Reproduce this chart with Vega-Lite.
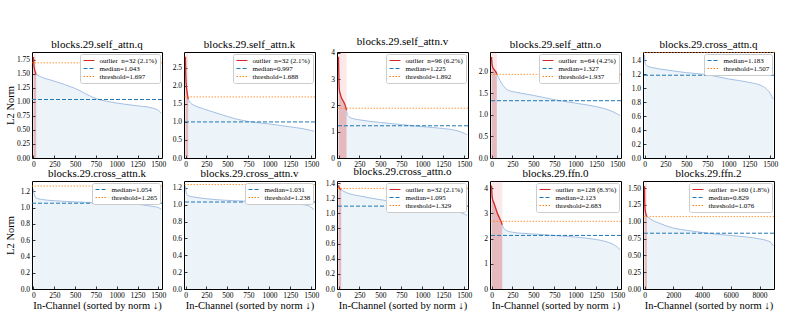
{
  "$schema": "https://vega.github.io/schema/vega-lite/v6.json",
  "padding": {"left": 4, "top": 35, "right": 2, "bottom": 2},
  "columns": 5,
  "spacing": {"row": -3, "column": 0},
  "align": "each",
  "resolve": {"scale": {"color": "independent"}},
  "datasets": {
    "stats": [
      {"p": "q", "median": 1.043, "threshold": 1.697, "first": 0, "n": 32},
      {"p": "k", "median": 0.997, "threshold": 1.688, "first": 0, "n": 32},
      {"p": "v", "median": 1.225, "threshold": 1.892, "first": 0, "n": 96},
      {"p": "o", "median": 1.327, "threshold": 1.937, "first": 0, "n": 64},
      {"p": "cq", "median": 1.183, "threshold": 1.507, "first": 0, "n": 0},
      {"p": "ck", "median": 1.054, "threshold": 1.265, "first": 0, "n": 0},
      {"p": "cv", "median": 1.031, "threshold": 1.238, "first": 0, "n": 0},
      {"p": "co", "median": 1.095, "threshold": 1.329, "first": 0, "n": 32},
      {"p": "f0", "median": 2.123, "threshold": 2.683, "first": 0, "n": 128},
      {"p": "f2", "median": 0.829, "threshold": 1.076, "first": 0, "n": 160}
    ],
    "curve": [
      {"p": "q", "part": "out", "x": 0, "y": 1.80},
      {"p": "q", "part": "out", "x": 2, "y": 1.74},
      {"p": "q", "part": "out", "x": 5, "y": 1.66},
      {"p": "q", "part": "out", "x": 10, "y": 1.60},
      {"p": "q", "part": "out", "x": 18, "y": 1.55},
      {"p": "q", "part": "out", "x": 25, "y": 1.52},
      {"p": "q", "part": "out", "x": 32, "y": 1.49},
      {"p": "q", "part": "in", "x": 32, "y": 1.49},
      {"p": "q", "part": "in", "x": 100, "y": 1.44},
      {"p": "q", "part": "in", "x": 250, "y": 1.37},
      {"p": "q", "part": "in", "x": 500, "y": 1.24},
      {"p": "q", "part": "in", "x": 750, "y": 1.06},
      {"p": "q", "part": "in", "x": 1000, "y": 0.98},
      {"p": "q", "part": "in", "x": 1250, "y": 0.93},
      {"p": "q", "part": "in", "x": 1400, "y": 0.90},
      {"p": "q", "part": "in", "x": 1500, "y": 0.85},
      {"p": "q", "part": "in", "x": 1535, "y": 0.80},

      {"p": "k", "part": "out", "x": 0, "y": 2.80},
      {"p": "k", "part": "out", "x": 2, "y": 2.45},
      {"p": "k", "part": "out", "x": 5, "y": 2.20},
      {"p": "k", "part": "out", "x": 10, "y": 2.00},
      {"p": "k", "part": "out", "x": 20, "y": 1.80},
      {"p": "k", "part": "out", "x": 32, "y": 1.63},
      {"p": "k", "part": "in", "x": 32, "y": 1.63},
      {"p": "k", "part": "in", "x": 50, "y": 1.55},
      {"p": "k", "part": "in", "x": 100, "y": 1.46},
      {"p": "k", "part": "in", "x": 200, "y": 1.37},
      {"p": "k", "part": "in", "x": 400, "y": 1.22},
      {"p": "k", "part": "in", "x": 600, "y": 1.08},
      {"p": "k", "part": "in", "x": 750, "y": 1.01},
      {"p": "k", "part": "in", "x": 1000, "y": 0.94},
      {"p": "k", "part": "in", "x": 1250, "y": 0.86},
      {"p": "k", "part": "in", "x": 1400, "y": 0.81},
      {"p": "k", "part": "in", "x": 1500, "y": 0.76},
      {"p": "k", "part": "in", "x": 1535, "y": 0.74},

      {"p": "v", "part": "out", "x": 0, "y": 3.85},
      {"p": "v", "part": "out", "x": 2, "y": 3.45},
      {"p": "v", "part": "out", "x": 5, "y": 3.00},
      {"p": "v", "part": "out", "x": 10, "y": 2.60},
      {"p": "v", "part": "out", "x": 20, "y": 2.45},
      {"p": "v", "part": "out", "x": 40, "y": 2.25},
      {"p": "v", "part": "out", "x": 60, "y": 2.15},
      {"p": "v", "part": "out", "x": 80, "y": 2.00},
      {"p": "v", "part": "out", "x": 96, "y": 1.82},
      {"p": "v", "part": "in", "x": 96, "y": 1.82},
      {"p": "v", "part": "in", "x": 105, "y": 1.65},
      {"p": "v", "part": "in", "x": 120, "y": 1.58},
      {"p": "v", "part": "in", "x": 150, "y": 1.52},
      {"p": "v", "part": "in", "x": 250, "y": 1.45},
      {"p": "v", "part": "in", "x": 500, "y": 1.35},
      {"p": "v", "part": "in", "x": 750, "y": 1.27},
      {"p": "v", "part": "in", "x": 1000, "y": 1.19},
      {"p": "v", "part": "in", "x": 1250, "y": 1.12},
      {"p": "v", "part": "in", "x": 1400, "y": 1.05},
      {"p": "v", "part": "in", "x": 1500, "y": 0.94},
      {"p": "v", "part": "in", "x": 1535, "y": 0.88},

      {"p": "o", "part": "out", "x": 0, "y": 2.34},
      {"p": "o", "part": "out", "x": 3, "y": 2.25},
      {"p": "o", "part": "out", "x": 8, "y": 2.15},
      {"p": "o", "part": "out", "x": 15, "y": 2.10},
      {"p": "o", "part": "out", "x": 30, "y": 2.05},
      {"p": "o", "part": "out", "x": 50, "y": 2.00},
      {"p": "o", "part": "out", "x": 64, "y": 1.94},
      {"p": "o", "part": "in", "x": 64, "y": 1.94},
      {"p": "o", "part": "in", "x": 100, "y": 1.80},
      {"p": "o", "part": "in", "x": 150, "y": 1.65},
      {"p": "o", "part": "in", "x": 200, "y": 1.57},
      {"p": "o", "part": "in", "x": 300, "y": 1.52},
      {"p": "o", "part": "in", "x": 500, "y": 1.45},
      {"p": "o", "part": "in", "x": 750, "y": 1.35},
      {"p": "o", "part": "in", "x": 1000, "y": 1.27},
      {"p": "o", "part": "in", "x": 1250, "y": 1.19},
      {"p": "o", "part": "in", "x": 1400, "y": 1.11},
      {"p": "o", "part": "in", "x": 1500, "y": 1.02},
      {"p": "o", "part": "in", "x": 1535, "y": 0.98},

      {"p": "cq", "part": "in", "x": 0, "y": 1.47},
      {"p": "cq", "part": "in", "x": 4, "y": 1.40},
      {"p": "cq", "part": "in", "x": 12, "y": 1.34},
      {"p": "cq", "part": "in", "x": 40, "y": 1.31},
      {"p": "cq", "part": "in", "x": 100, "y": 1.29},
      {"p": "cq", "part": "in", "x": 250, "y": 1.26},
      {"p": "cq", "part": "in", "x": 500, "y": 1.22},
      {"p": "cq", "part": "in", "x": 750, "y": 1.19},
      {"p": "cq", "part": "in", "x": 1000, "y": 1.13},
      {"p": "cq", "part": "in", "x": 1250, "y": 1.08},
      {"p": "cq", "part": "in", "x": 1400, "y": 1.03},
      {"p": "cq", "part": "in", "x": 1460, "y": 0.98},
      {"p": "cq", "part": "in", "x": 1500, "y": 0.92},
      {"p": "cq", "part": "in", "x": 1535, "y": 0.84},

      {"p": "ck", "part": "in", "x": 0, "y": 1.23},
      {"p": "ck", "part": "in", "x": 10, "y": 1.16},
      {"p": "ck", "part": "in", "x": 30, "y": 1.12},
      {"p": "ck", "part": "in", "x": 100, "y": 1.10},
      {"p": "ck", "part": "in", "x": 250, "y": 1.085},
      {"p": "ck", "part": "in", "x": 500, "y": 1.07},
      {"p": "ck", "part": "in", "x": 750, "y": 1.06},
      {"p": "ck", "part": "in", "x": 1000, "y": 1.05},
      {"p": "ck", "part": "in", "x": 1250, "y": 1.04},
      {"p": "ck", "part": "in", "x": 1400, "y": 1.02},
      {"p": "ck", "part": "in", "x": 1500, "y": 1.00},
      {"p": "ck", "part": "in", "x": 1535, "y": 0.98},

      {"p": "cv", "part": "in", "x": 0, "y": 1.22},
      {"p": "cv", "part": "in", "x": 5, "y": 1.17},
      {"p": "cv", "part": "in", "x": 15, "y": 1.12},
      {"p": "cv", "part": "in", "x": 50, "y": 1.10},
      {"p": "cv", "part": "in", "x": 100, "y": 1.09},
      {"p": "cv", "part": "in", "x": 250, "y": 1.07},
      {"p": "cv", "part": "in", "x": 500, "y": 1.05},
      {"p": "cv", "part": "in", "x": 750, "y": 1.04},
      {"p": "cv", "part": "in", "x": 1000, "y": 1.025},
      {"p": "cv", "part": "in", "x": 1250, "y": 1.01},
      {"p": "cv", "part": "in", "x": 1400, "y": 1.00},
      {"p": "cv", "part": "in", "x": 1480, "y": 0.98},
      {"p": "cv", "part": "in", "x": 1535, "y": 0.94},

      {"p": "co", "part": "out", "x": 0, "y": 1.37},
      {"p": "co", "part": "out", "x": 5, "y": 1.35},
      {"p": "co", "part": "out", "x": 15, "y": 1.33},
      {"p": "co", "part": "out", "x": 32, "y": 1.31},
      {"p": "co", "part": "in", "x": 32, "y": 1.31},
      {"p": "co", "part": "in", "x": 100, "y": 1.27},
      {"p": "co", "part": "in", "x": 250, "y": 1.23},
      {"p": "co", "part": "in", "x": 500, "y": 1.18},
      {"p": "co", "part": "in", "x": 750, "y": 1.14},
      {"p": "co", "part": "in", "x": 1000, "y": 1.10},
      {"p": "co", "part": "in", "x": 1250, "y": 1.06},
      {"p": "co", "part": "in", "x": 1400, "y": 1.03},
      {"p": "co", "part": "in", "x": 1500, "y": 0.99},
      {"p": "co", "part": "in", "x": 1535, "y": 0.97},

      {"p": "f0", "part": "out", "x": 0, "y": 4.10},
      {"p": "f0", "part": "out", "x": 5, "y": 3.80},
      {"p": "f0", "part": "out", "x": 10, "y": 3.60},
      {"p": "f0", "part": "out", "x": 30, "y": 3.40},
      {"p": "f0", "part": "out", "x": 50, "y": 3.20},
      {"p": "f0", "part": "out", "x": 70, "y": 3.00},
      {"p": "f0", "part": "out", "x": 90, "y": 2.85},
      {"p": "f0", "part": "out", "x": 110, "y": 2.70},
      {"p": "f0", "part": "out", "x": 128, "y": 2.55},
      {"p": "f0", "part": "in", "x": 128, "y": 2.55},
      {"p": "f0", "part": "in", "x": 160, "y": 2.35},
      {"p": "f0", "part": "in", "x": 250, "y": 2.25},
      {"p": "f0", "part": "in", "x": 500, "y": 2.18},
      {"p": "f0", "part": "in", "x": 750, "y": 2.12},
      {"p": "f0", "part": "in", "x": 1000, "y": 2.06},
      {"p": "f0", "part": "in", "x": 1250, "y": 1.96},
      {"p": "f0", "part": "in", "x": 1350, "y": 1.89},
      {"p": "f0", "part": "in", "x": 1450, "y": 1.77},
      {"p": "f0", "part": "in", "x": 1500, "y": 1.66},
      {"p": "f0", "part": "in", "x": 1535, "y": 1.55},

      {"p": "f2", "part": "out", "x": 0, "y": 1.53},
      {"p": "f2", "part": "out", "x": 5, "y": 1.40},
      {"p": "f2", "part": "out", "x": 15, "y": 1.28},
      {"p": "f2", "part": "out", "x": 40, "y": 1.18},
      {"p": "f2", "part": "out", "x": 100, "y": 1.11},
      {"p": "f2", "part": "out", "x": 160, "y": 1.08},
      {"p": "f2", "part": "in", "x": 160, "y": 1.08},
      {"p": "f2", "part": "in", "x": 400, "y": 1.04},
      {"p": "f2", "part": "in", "x": 1000, "y": 0.98},
      {"p": "f2", "part": "in", "x": 2000, "y": 0.905},
      {"p": "f2", "part": "in", "x": 3000, "y": 0.87},
      {"p": "f2", "part": "in", "x": 4000, "y": 0.84},
      {"p": "f2", "part": "in", "x": 5000, "y": 0.815},
      {"p": "f2", "part": "in", "x": 6000, "y": 0.795},
      {"p": "f2", "part": "in", "x": 7000, "y": 0.775},
      {"p": "f2", "part": "in", "x": 8000, "y": 0.745},
      {"p": "f2", "part": "in", "x": 8500, "y": 0.72},
      {"p": "f2", "part": "in", "x": 8800, "y": 0.69},
      {"p": "f2", "part": "in", "x": 8959, "y": 0.64}
    ]
  },
  "concat": [
    {
      "title": "blocks.29.self_attn.q", "width": 130, "height": 106,
      "layer": [
        {"data": {"name": "stats"}, "transform": [{"filter": "datum.p == 'q'"}], "mark": {"type": "rect", "color": "#d62728", "opacity": 0.1},
         "encoding": {"x": {"field": "first", "type": "quantitative", "scale": {"domain": [-18, 1544], "nice": false, "zero": false}, "axis": {"values": [0, 250, 500, 750, 1000, 1250, 1500], "format": "d", "title": null, "labelOverlap": false, "tickCount": 20}}, "x2": {"field": "n"}}},
        {"data": {"name": "curve"}, "transform": [{"filter": "datum.p == 'q'"}], "mark": {"type": "area", "color": "#1f77b4", "opacity": 0.08, "interpolate": "monotone"},
         "encoding": {"x": {"field": "x", "type": "quantitative", "scale": {"domain": [-18, 1544], "nice": false, "zero": false}, "axis": {"values": [0, 250, 500, 750, 1000, 1250, 1500], "format": "d", "title": null, "labelOverlap": false, "tickCount": 20}}, "y": {"field": "y", "type": "quantitative", "stack": null, "scale": {"domain": [0, 1.89], "nice": false}, "axis": {"values": [0, 0.25, 0.5, 0.75, 1, 1.25, 1.5, 1.75], "format": ".2f", "title": "L2 Norm", "labelOverlap": false, "tickCount": 20}}, "detail": {"field": "part", "type": "nominal"}}},
        {"data": {"name": "curve"}, "transform": [{"filter": "datum.p == 'q' && datum.part == 'out'"}], "mark": {"type": "area", "color": "#d62728", "opacity": 0.2, "interpolate": "monotone"},
         "encoding": {"x": {"field": "x", "type": "quantitative"}, "y": {"field": "y", "type": "quantitative"}}},
        {"data": {"name": "curve"}, "transform": [{"filter": "datum.p == 'q' && datum.part == 'in'"}], "mark": {"type": "line", "color": "#a3bfe6", "strokeWidth": 1, "interpolate": "monotone"},
         "encoding": {"x": {"field": "x", "type": "quantitative"}, "y": {"field": "y", "type": "quantitative"}}},
        {"data": {"name": "curve"}, "transform": [{"filter": "datum.p == 'q' && datum.part == 'out'"}], "mark": {"type": "line", "strokeWidth": 1.3, "interpolate": "monotone"},
         "encoding": {"x": {"field": "x", "type": "quantitative"}, "y": {"field": "y", "type": "quantitative"}, "color": {"datum": "outlier\u00a0 n=32 (2.1%)", "type": "nominal"}}},
        {"data": {"name": "stats"}, "transform": [{"filter": "datum.p == 'q'"}], "mark": {"type": "rule", "strokeWidth": 1, "strokeDash": [4, 2]},
         "encoding": {"y": {"field": "median", "type": "quantitative"},
           "color": {"datum": "median=1.043", "type": "nominal", "scale": {"domain": ["outlier\u00a0 n=32 (2.1%)", "median=1.043", "threshold=1.697"], "range": ["#d62728", "#1f77b4", "#ff7f0e"]},
             "legend": {"title": null, "encode": {"symbols": {"update": {"strokeDash": {"signal": "indexof(datum.label, 'median') == 0 ? [4, 2] : indexof(datum.label, 'threshold') == 0 ? [1.5, 1.5] : [1, 0]"}, "stroke": {"signal": "indexof(datum.label, 'median') == 0 ? '#1f77b4' : indexof(datum.label, 'threshold') == 0 ? '#ff7f0e' : '#d62728'"}}}}}}}},
        {"data": {"name": "stats"}, "transform": [{"filter": "datum.p == 'q'"}], "mark": {"type": "rule", "strokeWidth": 1, "opacity": 0.8, "strokeDash": [1.5, 1.5]},
         "encoding": {"y": {"field": "threshold", "type": "quantitative"}, "color": {"datum": "threshold=1.697", "type": "nominal"}}}
      ]
    },
    {
      "title": "blocks.29.self_attn.k", "width": 131, "height": 106,
      "layer": [
        {"data": {"name": "stats"}, "transform": [{"filter": "datum.p == 'k'"}], "mark": {"type": "rect", "color": "#d62728", "opacity": 0.1},
         "encoding": {"x": {"field": "first", "type": "quantitative", "scale": {"domain": [-18, 1544], "nice": false, "zero": false}, "axis": {"values": [0, 250, 500, 750, 1000, 1250, 1500], "format": "d", "title": null, "labelOverlap": false, "tickCount": 20}}, "x2": {"field": "n"}}},
        {"data": {"name": "curve"}, "transform": [{"filter": "datum.p == 'k'"}], "mark": {"type": "area", "color": "#1f77b4", "opacity": 0.08, "interpolate": "monotone"},
         "encoding": {"x": {"field": "x", "type": "quantitative", "scale": {"domain": [-18, 1544], "nice": false, "zero": false}, "axis": {"values": [0, 250, 500, 750, 1000, 1250, 1500], "format": "d", "title": null, "labelOverlap": false, "tickCount": 20}}, "y": {"field": "y", "type": "quantitative", "stack": null, "scale": {"domain": [0, 2.93], "nice": false}, "axis": {"values": [0, 0.5, 1, 1.5, 2, 2.5], "format": ".1f", "title": null, "labelOverlap": false, "tickCount": 20}}, "detail": {"field": "part", "type": "nominal"}}},
        {"data": {"name": "curve"}, "transform": [{"filter": "datum.p == 'k' && datum.part == 'out'"}], "mark": {"type": "area", "color": "#d62728", "opacity": 0.2, "interpolate": "monotone"},
         "encoding": {"x": {"field": "x", "type": "quantitative"}, "y": {"field": "y", "type": "quantitative"}}},
        {"data": {"name": "curve"}, "transform": [{"filter": "datum.p == 'k' && datum.part == 'in'"}], "mark": {"type": "line", "color": "#a3bfe6", "strokeWidth": 1, "interpolate": "monotone"},
         "encoding": {"x": {"field": "x", "type": "quantitative"}, "y": {"field": "y", "type": "quantitative"}}},
        {"data": {"name": "curve"}, "transform": [{"filter": "datum.p == 'k' && datum.part == 'out'"}], "mark": {"type": "line", "strokeWidth": 1.3, "interpolate": "monotone"},
         "encoding": {"x": {"field": "x", "type": "quantitative"}, "y": {"field": "y", "type": "quantitative"}, "color": {"datum": "outlier\u00a0 n=32 (2.1%)", "type": "nominal"}}},
        {"data": {"name": "stats"}, "transform": [{"filter": "datum.p == 'k'"}], "mark": {"type": "rule", "strokeWidth": 1, "strokeDash": [4, 2]},
         "encoding": {"y": {"field": "median", "type": "quantitative"},
           "color": {"datum": "median=0.997", "type": "nominal", "scale": {"domain": ["outlier\u00a0 n=32 (2.1%)", "median=0.997", "threshold=1.688"], "range": ["#d62728", "#1f77b4", "#ff7f0e"]},
             "legend": {"title": null, "encode": {"symbols": {"update": {"strokeDash": {"signal": "indexof(datum.label, 'median') == 0 ? [4, 2] : indexof(datum.label, 'threshold') == 0 ? [1.5, 1.5] : [1, 0]"}, "stroke": {"signal": "indexof(datum.label, 'median') == 0 ? '#1f77b4' : indexof(datum.label, 'threshold') == 0 ? '#ff7f0e' : '#d62728'"}}}}}}}},
        {"data": {"name": "stats"}, "transform": [{"filter": "datum.p == 'k'"}], "mark": {"type": "rule", "strokeWidth": 1, "opacity": 0.8, "strokeDash": [1.5, 1.5]},
         "encoding": {"y": {"field": "threshold", "type": "quantitative"}, "color": {"datum": "threshold=1.688", "type": "nominal"}}}
      ]
    },
    {
      "title": "blocks.29.self_attn.v", "width": 131, "height": 106,
      "layer": [
        {"data": {"name": "stats"}, "transform": [{"filter": "datum.p == 'v'"}], "mark": {"type": "rect", "color": "#d62728", "opacity": 0.1},
         "encoding": {"x": {"field": "first", "type": "quantitative", "scale": {"domain": [-18, 1544], "nice": false, "zero": false}, "axis": {"values": [0, 250, 500, 750, 1000, 1250, 1500], "format": "d", "title": null, "labelOverlap": false, "tickCount": 20}}, "x2": {"field": "n"}}},
        {"data": {"name": "curve"}, "transform": [{"filter": "datum.p == 'v'"}], "mark": {"type": "area", "color": "#1f77b4", "opacity": 0.08, "interpolate": "monotone"},
         "encoding": {"x": {"field": "x", "type": "quantitative", "scale": {"domain": [-18, 1544], "nice": false, "zero": false}, "axis": {"values": [0, 250, 500, 750, 1000, 1250, 1500], "format": "d", "title": null, "labelOverlap": false, "tickCount": 20}}, "y": {"field": "y", "type": "quantitative", "stack": null, "scale": {"domain": [0, 4.03], "nice": false}, "axis": {"values": [0, 1, 2, 3, 4], "format": "d", "title": null, "labelOverlap": false, "tickCount": 20}}, "detail": {"field": "part", "type": "nominal"}}},
        {"data": {"name": "curve"}, "transform": [{"filter": "datum.p == 'v' && datum.part == 'out'"}], "mark": {"type": "area", "color": "#d62728", "opacity": 0.2, "interpolate": "monotone"},
         "encoding": {"x": {"field": "x", "type": "quantitative"}, "y": {"field": "y", "type": "quantitative"}}},
        {"data": {"name": "curve"}, "transform": [{"filter": "datum.p == 'v' && datum.part == 'in'"}], "mark": {"type": "line", "color": "#a3bfe6", "strokeWidth": 1, "interpolate": "monotone"},
         "encoding": {"x": {"field": "x", "type": "quantitative"}, "y": {"field": "y", "type": "quantitative"}}},
        {"data": {"name": "curve"}, "transform": [{"filter": "datum.p == 'v' && datum.part == 'out'"}], "mark": {"type": "line", "strokeWidth": 1.3, "interpolate": "monotone"},
         "encoding": {"x": {"field": "x", "type": "quantitative"}, "y": {"field": "y", "type": "quantitative"}, "color": {"datum": "outlier\u00a0 n=96 (6.2%)", "type": "nominal"}}},
        {"data": {"name": "stats"}, "transform": [{"filter": "datum.p == 'v'"}], "mark": {"type": "rule", "strokeWidth": 1, "strokeDash": [4, 2]},
         "encoding": {"y": {"field": "median", "type": "quantitative"},
           "color": {"datum": "median=1.225", "type": "nominal", "scale": {"domain": ["outlier\u00a0 n=96 (6.2%)", "median=1.225", "threshold=1.892"], "range": ["#d62728", "#1f77b4", "#ff7f0e"]},
             "legend": {"title": null, "encode": {"symbols": {"update": {"strokeDash": {"signal": "indexof(datum.label, 'median') == 0 ? [4, 2] : indexof(datum.label, 'threshold') == 0 ? [1.5, 1.5] : [1, 0]"}, "stroke": {"signal": "indexof(datum.label, 'median') == 0 ? '#1f77b4' : indexof(datum.label, 'threshold') == 0 ? '#ff7f0e' : '#d62728'"}}}}}}}},
        {"data": {"name": "stats"}, "transform": [{"filter": "datum.p == 'v'"}], "mark": {"type": "rule", "strokeWidth": 1, "opacity": 0.8, "strokeDash": [1.5, 1.5]},
         "encoding": {"y": {"field": "threshold", "type": "quantitative"}, "color": {"datum": "threshold=1.892", "type": "nominal"}}}
      ]
    },
    {
      "title": "blocks.29.self_attn.o", "width": 131, "height": 106,
      "layer": [
        {"data": {"name": "stats"}, "transform": [{"filter": "datum.p == 'o'"}], "mark": {"type": "rect", "color": "#d62728", "opacity": 0.1},
         "encoding": {"x": {"field": "first", "type": "quantitative", "scale": {"domain": [-18, 1544], "nice": false, "zero": false}, "axis": {"values": [0, 250, 500, 750, 1000, 1250, 1500], "format": "d", "title": null, "labelOverlap": false, "tickCount": 20}}, "x2": {"field": "n"}}},
        {"data": {"name": "curve"}, "transform": [{"filter": "datum.p == 'o'"}], "mark": {"type": "area", "color": "#1f77b4", "opacity": 0.08, "interpolate": "monotone"},
         "encoding": {"x": {"field": "x", "type": "quantitative", "scale": {"domain": [-18, 1544], "nice": false, "zero": false}, "axis": {"values": [0, 250, 500, 750, 1000, 1250, 1500], "format": "d", "title": null, "labelOverlap": false, "tickCount": 20}}, "y": {"field": "y", "type": "quantitative", "stack": null, "scale": {"domain": [0, 2.455], "nice": false}, "axis": {"values": [0, 0.5, 1, 1.5, 2], "format": ".1f", "title": null, "labelOverlap": false, "tickCount": 20}}, "detail": {"field": "part", "type": "nominal"}}},
        {"data": {"name": "curve"}, "transform": [{"filter": "datum.p == 'o' && datum.part == 'out'"}], "mark": {"type": "area", "color": "#d62728", "opacity": 0.2, "interpolate": "monotone"},
         "encoding": {"x": {"field": "x", "type": "quantitative"}, "y": {"field": "y", "type": "quantitative"}}},
        {"data": {"name": "curve"}, "transform": [{"filter": "datum.p == 'o' && datum.part == 'in'"}], "mark": {"type": "line", "color": "#a3bfe6", "strokeWidth": 1, "interpolate": "monotone"},
         "encoding": {"x": {"field": "x", "type": "quantitative"}, "y": {"field": "y", "type": "quantitative"}}},
        {"data": {"name": "curve"}, "transform": [{"filter": "datum.p == 'o' && datum.part == 'out'"}], "mark": {"type": "line", "strokeWidth": 1.3, "interpolate": "monotone"},
         "encoding": {"x": {"field": "x", "type": "quantitative"}, "y": {"field": "y", "type": "quantitative"}, "color": {"datum": "outlier\u00a0 n=64 (4.2%)", "type": "nominal"}}},
        {"data": {"name": "stats"}, "transform": [{"filter": "datum.p == 'o'"}], "mark": {"type": "rule", "strokeWidth": 1, "strokeDash": [4, 2]},
         "encoding": {"y": {"field": "median", "type": "quantitative"},
           "color": {"datum": "median=1.327", "type": "nominal", "scale": {"domain": ["outlier\u00a0 n=64 (4.2%)", "median=1.327", "threshold=1.937"], "range": ["#d62728", "#1f77b4", "#ff7f0e"]},
             "legend": {"title": null, "encode": {"symbols": {"update": {"strokeDash": {"signal": "indexof(datum.label, 'median') == 0 ? [4, 2] : indexof(datum.label, 'threshold') == 0 ? [1.5, 1.5] : [1, 0]"}, "stroke": {"signal": "indexof(datum.label, 'median') == 0 ? '#1f77b4' : indexof(datum.label, 'threshold') == 0 ? '#ff7f0e' : '#d62728'"}}}}}}}},
        {"data": {"name": "stats"}, "transform": [{"filter": "datum.p == 'o'"}], "mark": {"type": "rule", "strokeWidth": 1, "opacity": 0.8, "strokeDash": [1.5, 1.5]},
         "encoding": {"y": {"field": "threshold", "type": "quantitative"}, "color": {"datum": "threshold=1.937", "type": "nominal"}}}
      ]
    },
    {
      "title": "blocks.29.cross_attn.q", "width": 131, "height": 106,
      "layer": [
        {"data": {"name": "curve"}, "transform": [{"filter": "datum.p == 'cq'"}], "mark": {"type": "area", "color": "#1f77b4", "opacity": 0.08, "interpolate": "monotone"},
         "encoding": {"x": {"field": "x", "type": "quantitative", "scale": {"domain": [-18, 1544], "nice": false, "zero": false}, "axis": {"values": [0, 250, 500, 750, 1000, 1250, 1500], "format": "d", "title": null, "labelOverlap": false, "tickCount": 20}}, "y": {"field": "y", "type": "quantitative", "stack": null, "scale": {"domain": [0, 1.515], "nice": false}, "axis": {"values": [0, 0.2, 0.4, 0.6, 0.8, 1, 1.2, 1.4], "format": ".1f", "title": null, "labelOverlap": false, "tickCount": 20}}}},
        {"data": {"name": "curve"}, "transform": [{"filter": "datum.p == 'cq'"}], "mark": {"type": "line", "color": "#a3bfe6", "strokeWidth": 1, "interpolate": "monotone"},
         "encoding": {"x": {"field": "x", "type": "quantitative"}, "y": {"field": "y", "type": "quantitative"}}},
        {"data": {"name": "stats"}, "transform": [{"filter": "datum.p == 'cq'"}], "mark": {"type": "rule", "strokeWidth": 1, "strokeDash": [4, 2]},
         "encoding": {"y": {"field": "median", "type": "quantitative"},
           "color": {"datum": "median=1.183", "type": "nominal", "scale": {"domain": ["median=1.183", "threshold=1.507"], "range": ["#1f77b4", "#ff7f0e"]},
             "legend": {"title": null, "encode": {"symbols": {"update": {"strokeDash": {"signal": "indexof(datum.label, 'median') == 0 ? [4, 2] : [1.5, 1.5]"}, "stroke": {"signal": "indexof(datum.label, 'median') == 0 ? '#1f77b4' : '#ff7f0e'"}}}}}}}},
        {"data": {"name": "stats"}, "transform": [{"filter": "datum.p == 'cq'"}], "mark": {"type": "rule", "strokeWidth": 1, "opacity": 0.8, "strokeDash": [1.5, 1.5]},
         "encoding": {"y": {"field": "threshold", "type": "quantitative"}, "color": {"datum": "threshold=1.507", "type": "nominal"}}}
      ]
    },
    {
      "title": "blocks.29.cross_attn.k", "width": 130, "height": 108,
      "layer": [
        {"data": {"name": "curve"}, "transform": [{"filter": "datum.p == 'ck'"}], "mark": {"type": "area", "color": "#1f77b4", "opacity": 0.08, "interpolate": "monotone"},
         "encoding": {"x": {"field": "x", "type": "quantitative", "scale": {"domain": [-18, 1544], "nice": false, "zero": false}, "axis": {"values": [0, 250, 500, 750, 1000, 1250, 1500], "format": "d", "title": "In-Channel (sorted by norm ↓)", "labelOverlap": false, "tickCount": 20}}, "y": {"field": "y", "type": "quantitative", "stack": null, "scale": {"domain": [0, 1.327], "nice": false}, "axis": {"values": [0, 0.2, 0.4, 0.6, 0.8, 1, 1.2], "format": ".1f", "title": "L2 Norm", "labelOverlap": false, "tickCount": 20}}}},
        {"data": {"name": "curve"}, "transform": [{"filter": "datum.p == 'ck'"}], "mark": {"type": "line", "color": "#a3bfe6", "strokeWidth": 1, "interpolate": "monotone"},
         "encoding": {"x": {"field": "x", "type": "quantitative"}, "y": {"field": "y", "type": "quantitative"}}},
        {"data": {"name": "stats"}, "transform": [{"filter": "datum.p == 'ck'"}], "mark": {"type": "rule", "strokeWidth": 1, "strokeDash": [4, 2]},
         "encoding": {"y": {"field": "median", "type": "quantitative"},
           "color": {"datum": "median=1.054", "type": "nominal", "scale": {"domain": ["median=1.054", "threshold=1.265"], "range": ["#1f77b4", "#ff7f0e"]},
             "legend": {"title": null, "encode": {"symbols": {"update": {"strokeDash": {"signal": "indexof(datum.label, 'median') == 0 ? [4, 2] : [1.5, 1.5]"}, "stroke": {"signal": "indexof(datum.label, 'median') == 0 ? '#1f77b4' : '#ff7f0e'"}}}}}}}},
        {"data": {"name": "stats"}, "transform": [{"filter": "datum.p == 'ck'"}], "mark": {"type": "rule", "strokeWidth": 1, "opacity": 0.8, "strokeDash": [1.5, 1.5]},
         "encoding": {"y": {"field": "threshold", "type": "quantitative"}, "color": {"datum": "threshold=1.265", "type": "nominal"}}}
      ]
    },
    {
      "title": "blocks.29.cross_attn.v", "width": 131, "height": 108,
      "layer": [
        {"data": {"name": "curve"}, "transform": [{"filter": "datum.p == 'cv'"}], "mark": {"type": "area", "color": "#1f77b4", "opacity": 0.08, "interpolate": "monotone"},
         "encoding": {"x": {"field": "x", "type": "quantitative", "scale": {"domain": [-18, 1544], "nice": false, "zero": false}, "axis": {"values": [0, 250, 500, 750, 1000, 1250, 1500], "format": "d", "title": "In-Channel (sorted by norm ↓)", "labelOverlap": false, "tickCount": 20}}, "y": {"field": "y", "type": "quantitative", "stack": null, "scale": {"domain": [0, 1.28], "nice": false}, "axis": {"values": [0, 0.2, 0.4, 0.6, 0.8, 1, 1.2], "format": ".1f", "title": null, "labelOverlap": false, "tickCount": 20}}}},
        {"data": {"name": "curve"}, "transform": [{"filter": "datum.p == 'cv'"}], "mark": {"type": "line", "color": "#a3bfe6", "strokeWidth": 1, "interpolate": "monotone"},
         "encoding": {"x": {"field": "x", "type": "quantitative"}, "y": {"field": "y", "type": "quantitative"}}},
        {"data": {"name": "stats"}, "transform": [{"filter": "datum.p == 'cv'"}], "mark": {"type": "rule", "strokeWidth": 1, "strokeDash": [4, 2]},
         "encoding": {"y": {"field": "median", "type": "quantitative"},
           "color": {"datum": "median=1.031", "type": "nominal", "scale": {"domain": ["median=1.031", "threshold=1.238"], "range": ["#1f77b4", "#ff7f0e"]},
             "legend": {"title": null, "encode": {"symbols": {"update": {"strokeDash": {"signal": "indexof(datum.label, 'median') == 0 ? [4, 2] : [1.5, 1.5]"}, "stroke": {"signal": "indexof(datum.label, 'median') == 0 ? '#1f77b4' : '#ff7f0e'"}}}}}}}},
        {"data": {"name": "stats"}, "transform": [{"filter": "datum.p == 'cv'"}], "mark": {"type": "rule", "strokeWidth": 1, "opacity": 0.8, "strokeDash": [1.5, 1.5]},
         "encoding": {"y": {"field": "threshold", "type": "quantitative"}, "color": {"datum": "threshold=1.238", "type": "nominal"}}}
      ]
    },
    {
      "title": "blocks.29.cross_attn.o", "width": 131, "height": 108,
      "layer": [
        {"data": {"name": "stats"}, "transform": [{"filter": "datum.p == 'co'"}], "mark": {"type": "rect", "color": "#d62728", "opacity": 0.1},
         "encoding": {"x": {"field": "first", "type": "quantitative", "scale": {"domain": [-18, 1544], "nice": false, "zero": false}, "axis": {"values": [0, 250, 500, 750, 1000, 1250, 1500], "format": "d", "title": "In-Channel (sorted by norm ↓)", "labelOverlap": false, "tickCount": 20}}, "x2": {"field": "n"}}},
        {"data": {"name": "curve"}, "transform": [{"filter": "datum.p == 'co'"}], "mark": {"type": "area", "color": "#1f77b4", "opacity": 0.08, "interpolate": "monotone"},
         "encoding": {"x": {"field": "x", "type": "quantitative", "scale": {"domain": [-18, 1544], "nice": false, "zero": false}, "axis": {"values": [0, 250, 500, 750, 1000, 1250, 1500], "format": "d", "title": "In-Channel (sorted by norm ↓)", "labelOverlap": false, "tickCount": 20}}, "y": {"field": "y", "type": "quantitative", "stack": null, "scale": {"domain": [0, 1.427], "nice": false}, "axis": {"values": [0, 0.2, 0.4, 0.6, 0.8, 1, 1.2, 1.4], "format": ".1f", "title": null, "labelOverlap": false, "tickCount": 20}}, "detail": {"field": "part", "type": "nominal"}}},
        {"data": {"name": "curve"}, "transform": [{"filter": "datum.p == 'co' && datum.part == 'out'"}], "mark": {"type": "area", "color": "#d62728", "opacity": 0.2, "interpolate": "monotone"},
         "encoding": {"x": {"field": "x", "type": "quantitative"}, "y": {"field": "y", "type": "quantitative"}}},
        {"data": {"name": "curve"}, "transform": [{"filter": "datum.p == 'co' && datum.part == 'in'"}], "mark": {"type": "line", "color": "#a3bfe6", "strokeWidth": 1, "interpolate": "monotone"},
         "encoding": {"x": {"field": "x", "type": "quantitative"}, "y": {"field": "y", "type": "quantitative"}}},
        {"data": {"name": "curve"}, "transform": [{"filter": "datum.p == 'co' && datum.part == 'out'"}], "mark": {"type": "line", "strokeWidth": 1.3, "interpolate": "monotone"},
         "encoding": {"x": {"field": "x", "type": "quantitative"}, "y": {"field": "y", "type": "quantitative"}, "color": {"datum": "outlier\u00a0 n=32 (2.1%)", "type": "nominal"}}},
        {"data": {"name": "stats"}, "transform": [{"filter": "datum.p == 'co'"}], "mark": {"type": "rule", "strokeWidth": 1, "strokeDash": [4, 2]},
         "encoding": {"y": {"field": "median", "type": "quantitative"},
           "color": {"datum": "median=1.095", "type": "nominal", "scale": {"domain": ["outlier\u00a0 n=32 (2.1%)", "median=1.095", "threshold=1.329"], "range": ["#d62728", "#1f77b4", "#ff7f0e"]},
             "legend": {"title": null, "encode": {"symbols": {"update": {"strokeDash": {"signal": "indexof(datum.label, 'median') == 0 ? [4, 2] : indexof(datum.label, 'threshold') == 0 ? [1.5, 1.5] : [1, 0]"}, "stroke": {"signal": "indexof(datum.label, 'median') == 0 ? '#1f77b4' : indexof(datum.label, 'threshold') == 0 ? '#ff7f0e' : '#d62728'"}}}}}}}},
        {"data": {"name": "stats"}, "transform": [{"filter": "datum.p == 'co'"}], "mark": {"type": "rule", "strokeWidth": 1, "opacity": 0.8, "strokeDash": [1.5, 1.5]},
         "encoding": {"y": {"field": "threshold", "type": "quantitative"}, "color": {"datum": "threshold=1.329", "type": "nominal"}}}
      ]
    },
    {
      "title": "blocks.29.ffn.0", "width": 131, "height": 108,
      "layer": [
        {"data": {"name": "stats"}, "transform": [{"filter": "datum.p == 'f0'"}], "mark": {"type": "rect", "color": "#d62728", "opacity": 0.1},
         "encoding": {"x": {"field": "first", "type": "quantitative", "scale": {"domain": [-18, 1544], "nice": false, "zero": false}, "axis": {"values": [0, 250, 500, 750, 1000, 1250, 1500], "format": "d", "title": "In-Channel (sorted by norm ↓)", "labelOverlap": false, "tickCount": 20}}, "x2": {"field": "n"}}},
        {"data": {"name": "curve"}, "transform": [{"filter": "datum.p == 'f0'"}], "mark": {"type": "area", "color": "#1f77b4", "opacity": 0.08, "interpolate": "monotone"},
         "encoding": {"x": {"field": "x", "type": "quantitative", "scale": {"domain": [-18, 1544], "nice": false, "zero": false}, "axis": {"values": [0, 250, 500, 750, 1000, 1250, 1500], "format": "d", "title": "In-Channel (sorted by norm ↓)", "labelOverlap": false, "tickCount": 20}}, "y": {"field": "y", "type": "quantitative", "stack": null, "scale": {"domain": [0, 4.28], "nice": false}, "axis": {"values": [0, 1, 2, 3, 4], "format": "d", "title": null, "labelOverlap": false, "tickCount": 20}}, "detail": {"field": "part", "type": "nominal"}}},
        {"data": {"name": "curve"}, "transform": [{"filter": "datum.p == 'f0' && datum.part == 'out'"}], "mark": {"type": "area", "color": "#d62728", "opacity": 0.2, "interpolate": "monotone"},
         "encoding": {"x": {"field": "x", "type": "quantitative"}, "y": {"field": "y", "type": "quantitative"}}},
        {"data": {"name": "curve"}, "transform": [{"filter": "datum.p == 'f0' && datum.part == 'in'"}], "mark": {"type": "line", "color": "#a3bfe6", "strokeWidth": 1, "interpolate": "monotone"},
         "encoding": {"x": {"field": "x", "type": "quantitative"}, "y": {"field": "y", "type": "quantitative"}}},
        {"data": {"name": "curve"}, "transform": [{"filter": "datum.p == 'f0' && datum.part == 'out'"}], "mark": {"type": "line", "strokeWidth": 1.3, "interpolate": "monotone"},
         "encoding": {"x": {"field": "x", "type": "quantitative"}, "y": {"field": "y", "type": "quantitative"}, "color": {"datum": "outlier\u00a0 n=128 (8.3%)", "type": "nominal"}}},
        {"data": {"name": "stats"}, "transform": [{"filter": "datum.p == 'f0'"}], "mark": {"type": "rule", "strokeWidth": 1, "strokeDash": [4, 2]},
         "encoding": {"y": {"field": "median", "type": "quantitative"},
           "color": {"datum": "median=2.123", "type": "nominal", "scale": {"domain": ["outlier\u00a0 n=128 (8.3%)", "median=2.123", "threshold=2.683"], "range": ["#d62728", "#1f77b4", "#ff7f0e"]},
             "legend": {"title": null, "encode": {"symbols": {"update": {"strokeDash": {"signal": "indexof(datum.label, 'median') == 0 ? [4, 2] : indexof(datum.label, 'threshold') == 0 ? [1.5, 1.5] : [1, 0]"}, "stroke": {"signal": "indexof(datum.label, 'median') == 0 ? '#1f77b4' : indexof(datum.label, 'threshold') == 0 ? '#ff7f0e' : '#d62728'"}}}}}}}},
        {"data": {"name": "stats"}, "transform": [{"filter": "datum.p == 'f0'"}], "mark": {"type": "rule", "strokeWidth": 1, "opacity": 0.8, "strokeDash": [1.5, 1.5]},
         "encoding": {"y": {"field": "threshold", "type": "quantitative"}, "color": {"datum": "threshold=2.683", "type": "nominal"}}}
      ]
    },
    {
      "title": "blocks.29.ffn.2", "width": 131, "height": 108,
      "layer": [
        {"data": {"name": "stats"}, "transform": [{"filter": "datum.p == 'f2'"}], "mark": {"type": "rect", "color": "#d62728", "opacity": 0.1},
         "encoding": {"x": {"field": "first", "type": "quantitative", "scale": {"domain": [-108, 9005], "nice": false, "zero": false}, "axis": {"values": [0, 2000, 4000, 6000, 8000], "format": "d", "title": "In-Channel (sorted by norm ↓)", "labelOverlap": false, "tickCount": 20}}, "x2": {"field": "n"}}},
        {"data": {"name": "curve"}, "transform": [{"filter": "datum.p == 'f2'"}], "mark": {"type": "area", "color": "#1f77b4", "opacity": 0.08, "interpolate": "monotone"},
         "encoding": {"x": {"field": "x", "type": "quantitative", "scale": {"domain": [-108, 9005], "nice": false, "zero": false}, "axis": {"values": [0, 2000, 4000, 6000, 8000], "format": "d", "title": "In-Channel (sorted by norm ↓)", "labelOverlap": false, "tickCount": 20}}, "y": {"field": "y", "type": "quantitative", "stack": null, "scale": {"domain": [0, 1.605], "nice": false}, "axis": {"values": [0, 0.25, 0.5, 0.75, 1, 1.25, 1.5], "format": ".2f", "title": null, "labelOverlap": false, "tickCount": 20}}, "detail": {"field": "part", "type": "nominal"}}},
        {"data": {"name": "curve"}, "transform": [{"filter": "datum.p == 'f2' && datum.part == 'out'"}], "mark": {"type": "area", "color": "#d62728", "opacity": 0.2, "interpolate": "monotone"},
         "encoding": {"x": {"field": "x", "type": "quantitative"}, "y": {"field": "y", "type": "quantitative"}}},
        {"data": {"name": "curve"}, "transform": [{"filter": "datum.p == 'f2' && datum.part == 'in'"}], "mark": {"type": "line", "color": "#a3bfe6", "strokeWidth": 1, "interpolate": "monotone"},
         "encoding": {"x": {"field": "x", "type": "quantitative"}, "y": {"field": "y", "type": "quantitative"}}},
        {"data": {"name": "curve"}, "transform": [{"filter": "datum.p == 'f2' && datum.part == 'out'"}], "mark": {"type": "line", "strokeWidth": 1.3, "interpolate": "monotone"},
         "encoding": {"x": {"field": "x", "type": "quantitative"}, "y": {"field": "y", "type": "quantitative"}, "color": {"datum": "outlier\u00a0 n=160 (1.8%)", "type": "nominal"}}},
        {"data": {"name": "stats"}, "transform": [{"filter": "datum.p == 'f2'"}], "mark": {"type": "rule", "strokeWidth": 1, "strokeDash": [4, 2]},
         "encoding": {"y": {"field": "median", "type": "quantitative"},
           "color": {"datum": "median=0.829", "type": "nominal", "scale": {"domain": ["outlier\u00a0 n=160 (1.8%)", "median=0.829", "threshold=1.076"], "range": ["#d62728", "#1f77b4", "#ff7f0e"]},
             "legend": {"title": null, "encode": {"symbols": {"update": {"strokeDash": {"signal": "indexof(datum.label, 'median') == 0 ? [4, 2] : indexof(datum.label, 'threshold') == 0 ? [1.5, 1.5] : [1, 0]"}, "stroke": {"signal": "indexof(datum.label, 'median') == 0 ? '#1f77b4' : indexof(datum.label, 'threshold') == 0 ? '#ff7f0e' : '#d62728'"}}}}}}}},
        {"data": {"name": "stats"}, "transform": [{"filter": "datum.p == 'f2'"}], "mark": {"type": "rule", "strokeWidth": 1, "opacity": 0.8, "strokeDash": [1.5, 1.5]},
         "encoding": {"y": {"field": "threshold", "type": "quantitative"}, "color": {"datum": "threshold=1.076", "type": "nominal"}}}
      ]
    }
  ],
  "config": {
    "font": "Liberation Serif",
    "view": {"stroke": "black", "strokeWidth": 1},
    "title": {"font": "Liberation Serif", "fontSize": 11, "fontWeight": "normal", "offset": 2, "color": "black"},
    "axis": {
      "domain": false, "grid": false, "ticks": true, "tickSize": -3, "tickColor": "black", "tickWidth": 0.8,
      "labelPadding": 5.5, "labelFont": "Liberation Serif", "labelFontSize": 7.5, "labelColor": "black",
      "labelFlush": false, "labelOverlap": false,
      "titleFont": "Liberation Serif", "titleFontSize": 10.5, "titleFontWeight": "normal", "titleColor": "black"
    },
    "axisY": {"titlePadding": 1, "minExtent": 16, "maxExtent": 16},
    "axisX": {"titlePadding": 2, "labelPadding": 5},
    "legend": {
      "orient": "top-right", "offset": 2, "symbolType": "stroke", "symbolSize": 120,
      "symbolStrokeWidth": 1.2, "labelFont": "Liberation Serif", "labelFontSize": 7, "labelOffset": 4,
      "labelColor": "black", "rowPadding": 0, "padding": 2.5, "strokeColor": "#cccccc", "fillColor": "white",
      "cornerRadius": 2, "clipHeight": 8, "labelLimit": 200
    }
  }
}
